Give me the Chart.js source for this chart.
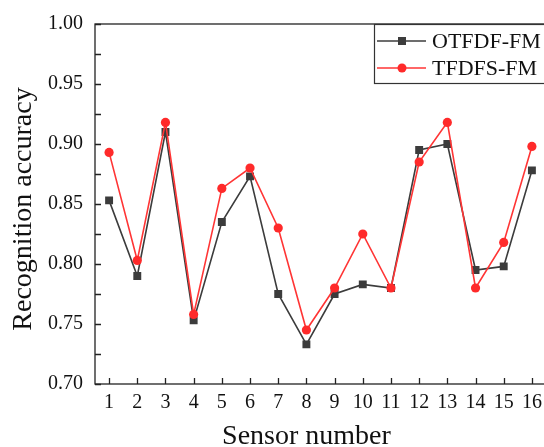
<!DOCTYPE html>
<html>
<head>
<meta charset="utf-8">
<script src="https://cdn.jsdelivr.net/npm/chart.js@4/dist/chart.umd.min.js"></script>
<style>
  html, body { margin: 0; padding: 0; background: #fff; overflow: hidden; }
  #wrap { position: relative; width: 552px; height: 447px; }
</style>
</head>
<body>
<div id="wrap"><canvas id="c" width="552" height="447"></canvas></div>
<script>
// Sensor indices along the x axis
const sensors = ['1','2','3','4','5','6','7','8','9','10','11','12','13','14','15','16'];
// Recognition accuracy per sensor
const otfdfFm = [0.853, 0.790, 0.910, 0.753, 0.835, 0.873, 0.775, 0.733, 0.775, 0.783, 0.780, 0.895, 0.900, 0.795, 0.798, 0.878];
const tfdfsFm = [0.893, 0.803, 0.918, 0.758, 0.863, 0.880, 0.830, 0.745, 0.780, 0.825, 0.780, 0.885, 0.918, 0.780, 0.818, 0.898];
// Y axis range and tick spacing (labels every 0.05, minor ticks every 0.025)
const yMin = 0.70, yMax = 1.00, yStep = 0.025;

const SERIF = '"Liberation Serif", "Times New Roman", serif';
const AXIS = '#222';

// Frame, inward ticks, axis titles and boxed legend
const decor = {
  id: 'decor',
  afterDraw(chart) {
    const ctx = chart.ctx;
    const a = chart.chartArea;
    const xs = chart.scales.x, ys = chart.scales.y;
    ctx.save();
    ctx.strokeStyle = AXIS;
    ctx.lineWidth = 1.3;
    ctx.strokeRect(a.left, a.top, a.right - a.left, a.bottom - a.top);
    ctx.beginPath();
    xs.ticks.forEach((t, i) => {
      const px = Math.round(xs.getPixelForTick(i)) + 0.5;
      ctx.moveTo(px, a.bottom);
      ctx.lineTo(px, a.bottom - 6);
    });
    ys.ticks.forEach((t) => {
      const py = Math.round(ys.getPixelForValue(t.value)) + 0.5;
      ctx.moveTo(a.left, py);
      ctx.lineTo(a.left + 6, py);
    });
    ctx.stroke();

    // axis titles
    ctx.fillStyle = '#111';
    ctx.font = '28px ' + SERIF;
    ctx.textAlign = 'center';
    ctx.textBaseline = 'alphabetic';
    ctx.fillText('Sensor number', (a.left + a.right) / 2 - 14, 444);
    ctx.save();
    ctx.translate(31, (a.top + a.bottom) / 2 + 5);
    ctx.rotate(-Math.PI / 2);
    ctx.fillText('Recognition accuracy', 0, 0);
    ctx.restore();

    // legend
    const lx = 374, ly = a.top, lh = 59;
    ctx.fillStyle = '#fff';
    ctx.fillRect(lx, ly, chart.width - lx, lh);
    ctx.strokeStyle = '#333';
    ctx.lineWidth = 1.2;
    ctx.strokeRect(lx + 0.5, ly + 0.5, chart.width, lh);
    const rows = [ly + 17, ly + 44];
    chart.data.datasets.forEach((ds, i) => {
      const yy = rows[i];
      ctx.strokeStyle = ds.borderColor;
      ctx.lineWidth = ds.borderWidth;
      ctx.beginPath();
      ctx.moveTo(lx + 3, yy);
      ctx.lineTo(lx + 52, yy);
      ctx.stroke();
      ctx.fillStyle = ds.pointBackgroundColor;
      if (ds.pointStyle === 'rect') {
        ctx.fillRect(lx + 28 - 4, yy - 4, 8, 8);
      } else {
        ctx.beginPath();
        ctx.arc(lx + 28, yy, 4.5, 0, Math.PI * 2);
        ctx.fill();
      }
      ctx.fillStyle = '#111';
      ctx.font = '22px ' + SERIF;
      ctx.textAlign = 'left';
      ctx.textBaseline = 'middle';
      ctx.fillText(ds.label, lx + 58, yy + 1);
    });
    ctx.restore();
  }
};

new Chart(document.getElementById('c'), {
  type: 'line',
  data: {
    labels: sensors,
    datasets: [
      {
        label: 'OTFDF-FM',
        data: otfdfFm,
        borderColor: '#3c3c3c',
        backgroundColor: '#3c3c3c',
        pointBackgroundColor: '#3c3c3c',
        pointBorderColor: '#3c3c3c',
        pointStyle: 'rect',
        pointRadius: 5.6,
        pointBorderWidth: 0,
        borderWidth: 1.6,
        tension: 0,
        order: 1
      },
      {
        label: 'TFDFS-FM',
        data: tfdfsFm,
        borderColor: '#ff3535',
        backgroundColor: '#ff3535',
        pointBackgroundColor: '#ff2a2a',
        pointBorderColor: '#ff2a2a',
        pointStyle: 'circle',
        pointRadius: 4.6,
        pointBorderWidth: 0,
        borderWidth: 1.6,
        tension: 0,
        order: 0
      }
    ]
  },
  options: {
    responsive: false,
    animation: false,
    devicePixelRatio: 1,
    layout: { padding: { top: 19, right: 6, left: 0, bottom: 0 } },
    plugins: { legend: { display: false }, tooltip: { enabled: false } },
    scales: {
      x: {
        type: 'category',
        offset: true,
        grid: { display: false, drawTicks: false },
        border: { display: false },
        ticks: {
          color: '#111',
          font: { family: SERIF, size: 20 },
          padding: 7,
          maxRotation: 0,
          autoSkip: false
        },
        afterFit(s) { s.height = 63; }
      },
      y: {
        min: yMin,
        max: yMax,
        grid: { display: false, drawTicks: false },
        border: { display: false },
        ticks: {
          stepSize: yStep,
          color: '#111',
          font: { family: SERIF, size: 20 },
          padding: 12,
          callback(v) {
            const k = Math.round(v / yStep);
            return k % 2 === 0 ? v.toFixed(2) : '';
          }
        },
        afterFit(s) { s.width = 95; }
      }
    }
  },
  plugins: [decor]
});
</script>
</body>
</html>
